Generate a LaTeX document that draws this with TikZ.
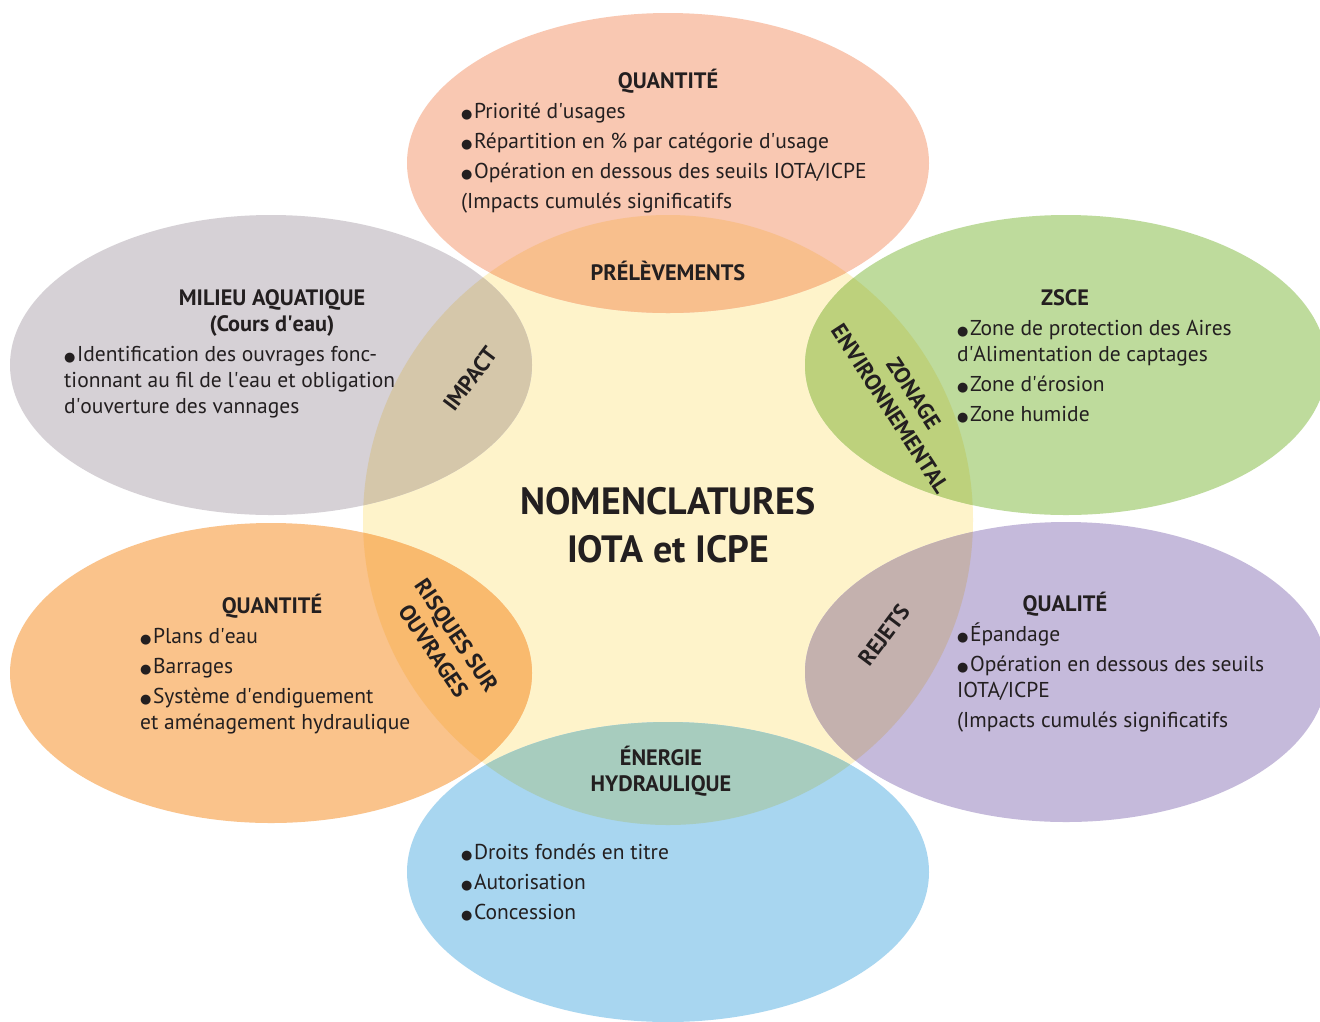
\documentclass[tikz,border=0pt]{standalone}
\usepackage{fontspec}
\setmainfont{PT Sans}
\newfontfamily\symf{DejaVu Sans}
\definecolor{cYel}{HTML}{FEF3CA}
\definecolor{cSal}{HTML}{F9C8B2}
\definecolor{cSalY}{HTML}{F8BF8D}
\definecolor{cGry}{HTML}{D6D1D6}
\definecolor{cGryY}{HTML}{D5C7AA}
\definecolor{cGrn}{HTML}{BEDB9C}
\definecolor{cGrnY}{HTML}{BDD17C}
\definecolor{cOra}{HTML}{FAC38B}
\definecolor{cOraY}{HTML}{F9BA6E}
\definecolor{cPur}{HTML}{C5BADB}
\definecolor{cPurY}{HTML}{C4B1AE}
\definecolor{cBlu}{HTML}{A8D6F0}
\definecolor{cBluY}{HTML}{A7CCBE}
\definecolor{ink}{HTML}{231F20}
\newcommand\bul{{\symf\fontsize{13}{13}\selectfont ●}\hspace{1.5pt}}
\newcommand\ap{\textquotesingle}
\begin{document}
\begin{tikzpicture}[x=1pt,y=-1pt,
  txt/.style={anchor=base west,inner sep=0pt,text=ink,font=\fontsize{21.5}{26}\selectfont},
  head/.style={anchor=base,inner sep=0pt,text=ink,font=\fontsize{22.3}{26}\selectfont\bfseries},
  rot/.style={inner sep=0pt,text=ink,align=center,font=\fontsize{22.5}{28}\selectfont\bfseries},
  title/.style={anchor=base,inner sep=0pt,text=ink,font=\fontsize{38}{44}\selectfont\bfseries}]
\useasboundingbox (0,0) rectangle (1320,1021);
\fill[white] (0,0) rectangle (1320,1021);
% base shapes
\fill[cYel] (668,520) circle (305);
\fill[cSal] (668,163) ellipse [x radius=261,y radius=150];
\fill[cGry] (271,365) ellipse [x radius=261,y radius=150];
\fill[cGrn] (1066,365) ellipse [x radius=261,y radius=150];
\fill[cOra] (271,673) ellipse [x radius=261,y radius=150];
\fill[cPur] (1066,672) ellipse [x radius=261,y radius=150];
\fill[cBlu] (668,872) ellipse [x radius=261,y radius=150];
% overlaps
\begin{scope}
\clip (668,520) circle (305);
\fill[cSalY] (668,163) ellipse [x radius=261,y radius=150];
\fill[cGryY] (271,365) ellipse [x radius=261,y radius=150];
\fill[cGrnY] (1066,365) ellipse [x radius=261,y radius=150];
\fill[cOraY] (271,673) ellipse [x radius=261,y radius=150];
\fill[cPurY] (1066,672) ellipse [x radius=261,y radius=150];
\fill[cBluY] (668,872) ellipse [x radius=261,y radius=150];
\end{scope}
% centre
\node[title] (t1) at (668,514) {NOMENCLATURES};
\node[title] (t2) at (668,562) {IOTA et ICPE};
% top
\node[head] (qh) at (668,88) {QUANTITÉ};
\node[txt] (q1) at (461,118) {\bul Priorité d\ap usages};
\node[txt] (q2) at (461,148) {\bul Répartition en \% par catégorie d\ap usage};
\node[txt] (q3) at (461,178) {\bul Opération en dessous des seuils IOTA/ICPE};
\node[txt] (q4) at (461,208) {(Impacts cumulés significatifs};
\node[head] (pr) at (668,280) {PRÉLÈVEMENTS};
% upper left
\node[head] (mh1) at (272,305) {MILIEU AQUATIQUE};
\node[head] (mh2) at (272,331) {(Cours d\ap eau)};
\node[txt] (m1) at (64,361) {\bul Identification des ouvrages fonc-};
\node[txt] (m2) at (64,387) {tionnant au fil de l\ap eau et obligation};
\node[txt] (m3) at (64,413) {d\ap ouverture des vannages};
\node[rot,rotate=53] (imp) at (470,379) {IMPACT};
% upper right
\node[head] (zh) at (1065,305) {ZSCE};
\node[txt] (z1) at (957,335) {\bul Zone de protection des Aires};
\node[txt] (z2) at (957,361) {d\ap Alimentation de captages};
\node[txt] (z3) at (957,391) {\bul Zone d\ap érosion};
\node[txt] (z4) at (957,421) {\bul Zone humide};
\node[rot,rotate=-57] (zon) at (902,401) {ZONAGE\\ENVIRONNEMENTAL};
% lower left
\node[head] (lh) at (272,613) {QUANTITÉ};
\node[txt] (l1) at (140,643) {\bul Plans d\ap eau};
\node[txt] (l2) at (140,673) {\bul Barrages};
\node[txt] (l3) at (140,703) {\bul Système d\ap endiguement};
\node[txt] (l4) at (140,729) {et aménagement hydraulique};
\node[rot,rotate=-56] (ris) at (445,643) {RISQUES SUR\\OUVRAGES};
% lower right
\node[head] (rh) at (1065,611) {QUALITÉ};
\node[txt] (r1) at (957,641) {\bul Épandage};
\node[txt] (r2) at (957,671) {\bul Opération en dessous des seuils};
\node[txt] (r3) at (957,697) {IOTA/ICPE};
\node[txt] (r4) at (957,727) {(Impacts cumulés significatifs};
\node[rot,rotate=53] (rej) at (884,635) {REJETS};
% bottom
\node[head] (eh1) at (661,765) {ÉNERGIE};
\node[head] (eh2) at (661,791) {HYDRAULIQUE};
\node[txt] (e1) at (461,859) {\bul Droits fondés en titre};
\node[txt] (e2) at (461,889) {\bul Autorisation};
\node[txt] (e3) at (461,919) {\bul Concession};
\end{tikzpicture}
\end{document}
